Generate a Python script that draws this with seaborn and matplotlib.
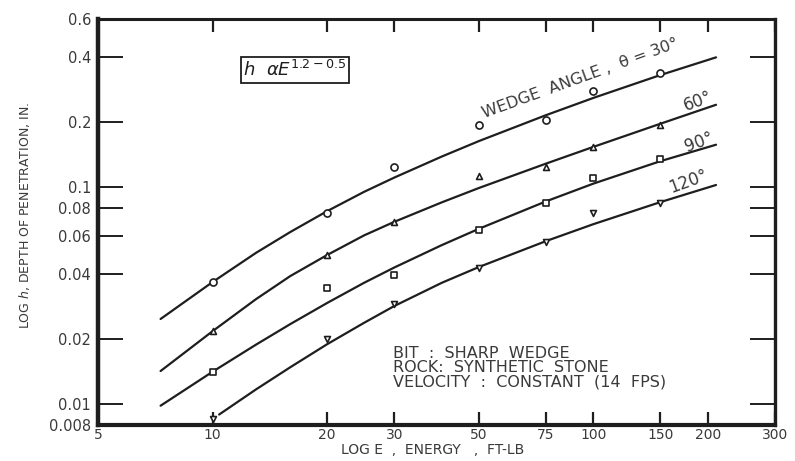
import matplotlib
matplotlib.use("Agg")
import matplotlib.pyplot as plt
import matplotlib.ticker as mticker
import seaborn as sns
import pandas as pd

# ---- data ----
angles = ["30", "60", "90", "120"]
energy_pts = [10, 20, 30, 50, 75, 100, 150]
h_30 = [0.0366, 0.0762, 0.125, 0.194, 0.205, 0.279, 0.338]
h_60 = [0.0217, 0.049, 0.069, 0.113, 0.124, 0.154, 0.194]
h_90 = [0.0141, 0.0343, 0.0394, 0.0639, 0.0852, 0.111, 0.1355]
h_120 = [0.0085, 0.020, 0.0291, 0.0424, 0.056, 0.0762, 0.0852]

curve_E = [7.3, 10, 13, 16, 20, 25, 30, 40, 50, 75, 100, 150, 210]
curve_30 = [0.0247, 0.0366, 0.0499, 0.0623, 0.0778, 0.0955, 0.1111, 0.139, 0.1637,
            0.2156, 0.2592, 0.3306, 0.399]
curve_60 = [0.0142, 0.0217, 0.0305, 0.0390, 0.0488, 0.0601, 0.0694, 0.0854, 0.0994,
            0.1288, 0.154, 0.197, 0.241]
curve_90 = [0.00982, 0.0141, 0.0188, 0.0234, 0.0293, 0.0363, 0.0427, 0.0542, 0.0644,
            0.0862, 0.1042, 0.1323, 0.1576]
curve120_E = [10.4, 13, 16, 20, 25, 30, 40, 50, 75, 100, 150, 210]
curve_120 = [0.00894, 0.01168, 0.01479, 0.0189, 0.02372, 0.02835, 0.0363, 0.0429, 0.0565,
             0.0677, 0.0856, 0.1027]

x_ticks = [5, 10, 20, 30, 50, 75, 100, 150, 200, 300]
x_ticklabels = ["5", "10", "20", "30", "50", "75", "100", "150", "200", "300"]
y_ticks = [0.008, 0.01, 0.02, 0.04, 0.06, 0.08, 0.1, 0.2, 0.4, 0.6]
y_ticklabels = ["0.008", "0.01", "0.02", "0.04", "0.06", "0.08", "0.1", "0.2", "0.4", "0.6"]

# ---- tables ----
points = pd.DataFrame({
    "E": energy_pts * 4,
    "h": h_30 + h_60 + h_90 + h_120,
    "angle": sum([[a] * len(energy_pts) for a in angles], []),
})
curves = pd.DataFrame({
    "E": curve_E * 3 + curve120_E,
    "h": curve_30 + curve_60 + curve_90 + curve_120,
    "angle": ["30"] * len(curve_E) + ["60"] * len(curve_E) + ["90"] * len(curve_E)
             + ["120"] * len(curve120_E),
})

sns.set_theme(style="white")
plt.rcParams["font.family"] = ["DejaVu Sans"]
plt.rcParams["mathtext.fontset"] = "dejavusans"

ink = "#1e1e1e"
textc = "#3a3a3a"

fig = plt.figure(figsize=(7.95, 4.61), dpi=100)
ax = fig.add_axes([98 / 795, 36 / 461, 677 / 795, 406 / 461])
ax.set_xscale("log")
ax.set_yscale("log")

sns.lineplot(data=curves, x="E", y="h", hue="angle", units="angle", estimator=None,
             sort=False, palette={a: ink for a in angles}, legend=False,
             linewidth=1.6, ax=ax, zorder=2)

markers = {"30": "o", "60": "^", "90": "s", "120": "v"}
sizes = {"30": 26, "60": 18, "90": 20, "120": 18}
for a in angles:
    sub = points[points["angle"] == a]
    sns.scatterplot(x=sub["E"], y=sub["h"], marker=markers[a], s=sizes[a],
                    facecolor="white", edgecolor=ink, linewidth=1.2, ax=ax,
                    zorder=3, legend=False)

ax.set_xlim(5, 300)
ax.set_ylim(0.008, 0.6)
ax.set_xticks(x_ticks, x_ticklabels)
ax.set_yticks(y_ticks, y_ticklabels)
ax.xaxis.set_minor_locator(mticker.NullLocator())
ax.yaxis.set_minor_locator(mticker.NullLocator())

ax.tick_params(axis="x", which="major", direction="in", length=9.5, width=1.6,
               top=True, bottom=True, color=ink, labelsize=10, labelcolor=textc, pad=2.5)
ax.tick_params(axis="y", which="major", direction="in", length=18, width=1.4,
               left=True, right=True, color=ink, labelsize=10.5, labelcolor=textc, pad=5)

for side, lw in {"left": 3.2, "bottom": 3.0, "top": 2.2, "right": 2.4}.items():
    ax.spines[side].set_visible(True)
    ax.spines[side].set_color(ink)
    ax.spines[side].set_linewidth(lw)

ax.set_xlabel("LOG E  ,  ENERGY   ,  FT-LB", fontsize=10, color=textc)
ax.set_ylabel(r"LOG $h$, DEPTH OF PENETRATION, IN.", fontsize=9, color=textc)
ax.xaxis.set_label_coords(0.495, -0.044)
ax.yaxis.set_label_coords(-0.097, 0.515)

# annotations
ax.text(0.291, 0.874, r"$h\ \ \alpha E^{1.2-0.5}$", transform=ax.transAxes,
        ha="center", va="center", fontsize=13, color=ink,
        bbox=dict(boxstyle="square,pad=0.15", facecolor="white", edgecolor=ink, linewidth=1.3))
ax.text(52, 0.204, "WEDGE  ANGLE ,  \u03b8 = 30\u00b0", rotation=20, rotation_mode="anchor",
        ha="left", va="bottom", fontsize=11.5, color=textc)
ax.text(188, 0.249, "60\u00b0", rotation=20, ha="center", va="center", fontsize=12, color=textc)
ax.text(189, 0.162, "90\u00b0", rotation=20, ha="center", va="center", fontsize=12, color=textc)
ax.text(178, 0.1065, "120\u00b0", rotation=20, ha="center", va="center", fontsize=12, color=textc)
ax.text(0.4357, 0.195,
        "BIT  :  SHARP  WEDGE\nROCK:  SYNTHETIC  STONE\nVELOCITY  :  CONSTANT  (14  FPS)",
        transform=ax.transAxes, ha="left", va="top", fontsize=11.5, color=textc,
        linespacing=0.95)

fig.savefig("out.png", dpi=100, facecolor="white")
